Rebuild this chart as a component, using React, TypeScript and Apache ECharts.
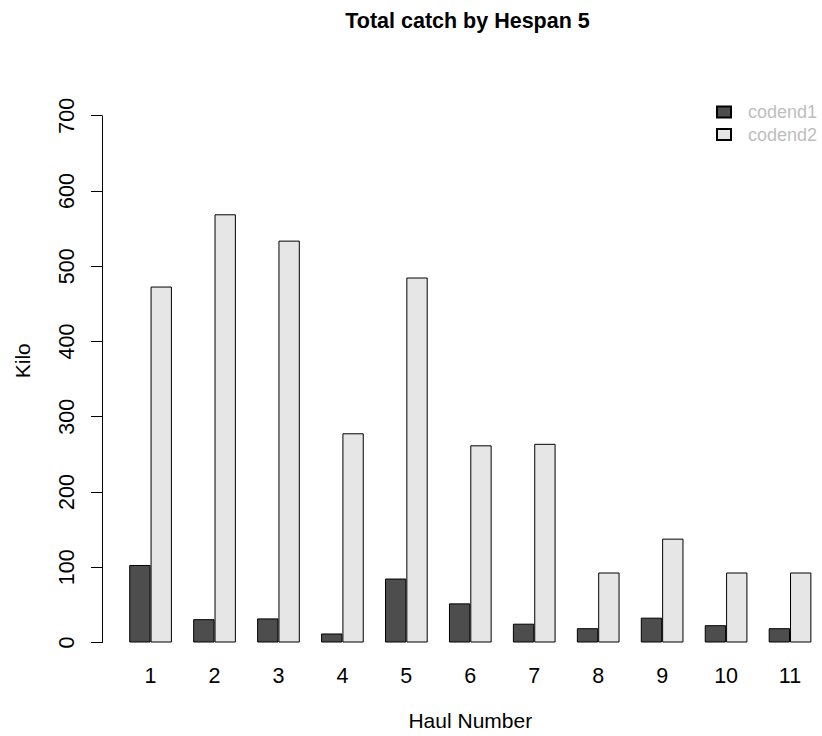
import { useEffect, useRef } from 'react';
import * as echarts from 'echarts';

// Haul numbers and total catch (kg) per codend
const hauls = ['1', '2', '3', '4', '5', '6', '7', '8', '9', '10', '11'];
const codend1 = [103, 31, 32, 12, 85, 52, 25, 19, 33, 23, 19];
const codend2 = [473, 569, 534, 278, 485, 262, 264, 93, 138, 93, 93];
const seriesNames = ['codend1', 'codend2'];
const seriesColors = ['#4d4d4d', '#e6e6e6'];

const FONT = '"Liberation Sans", Arial, Helvetica, sans-serif';

export default function App() {
  const chartRef = useRef<HTMLDivElement>(null);

  useEffect(() => {
    if (!chartRef.current) return;
    const chart = echarts.init(chartRef.current, null, { renderer: 'svg' });

    // grid spans the category bands; the y axis line sits a bit left of it (R style)
    const gridLeft = 118.6;
    const gridWidth = 704.4;
    const barWidth = gridWidth / hauls.length / 3;

    const option: echarts.EChartsOption = {
      animation: false,
      backgroundColor: '#ffffff',
      textStyle: { fontFamily: FONT },
      grid: {
        left: gridLeft,
        top: 115.7,
        width: gridWidth,
        bottom: 91,
      },
      legend: {
        orient: 'vertical',
        left: 711,
        top: 98,
        itemWidth: 14,
        itemHeight: 11,
        itemGap: 4.5,
        icon: 'rect',
        selectedMode: false,
        data: seriesNames,
        textStyle: {
          color: '#bebebe',
          fontSize: 18,
          fontFamily: FONT,
          padding: [0, 0, 0, 12],
        },
      },
      xAxis: {
        type: 'category',
        data: hauls,
        axisLine: { show: false },
        axisTick: { show: false },
        axisLabel: {
          color: '#000000',
          fontSize: 21.5,
          margin: 22.7,
          fontFamily: FONT,
        },
        name: 'Haul Number',
        nameLocation: 'middle',
        nameGap: 67.5,
        nameTextStyle: {
          color: '#000000',
          fontSize: 21,
          fontFamily: FONT,
        },
      },
      yAxis: {
        type: 'value',
        min: 0,
        max: 700,
        interval: 100,
        offset: gridLeft - 102,
        splitLine: { show: false },
        axisLine: { show: true, lineStyle: { color: '#000000', width: 1 } },
        axisTick: { show: true, length: 11, lineStyle: { color: '#000000', width: 1 } },
        axisLabel: {
          rotate: 90,
          color: '#000000',
          fontSize: 21.5,
          margin: 24,
          fontFamily: FONT,
        },
      },
      graphic: [
        {
          type: 'text',
          x: 467.5,
          y: 20.8,
          style: {
            text: 'Total catch by Hespan 5',
            font: `bold 21.5px ${FONT}`,
            fill: '#000000',
            textAlign: 'center',
            textVerticalAlign: 'middle',
            align: 'center',
            verticalAlign: 'middle',
          } as any,
        },
        {
          type: 'text',
          x: 22.5,
          y: 360.7,
          rotation: Math.PI / 2,
          style: {
            text: 'Kilo',
            font: `21px ${FONT}`,
            fill: '#000000',
            textAlign: 'center',
            textVerticalAlign: 'middle',
            align: 'center',
            verticalAlign: 'middle',
          } as any,
        },
      ],
      series: [codend1, codend2].map((values, i) => ({
        name: seriesNames[i],
        type: 'bar' as const,
        data: values,
        barWidth,
        barGap: '0%',
        itemStyle: {
          color: seriesColors[i],
          borderColor: '#000000',
          borderWidth: 1,
        },
      })),
    };

    chart.setOption(option);

    return () => {
      chart.dispose();
    };
  }, []);

  return (
    <div
      ref={chartRef}
      style={{ position: 'absolute', left: 0, top: 0, width: '822px', height: '736px' }}
    />
  );
}
